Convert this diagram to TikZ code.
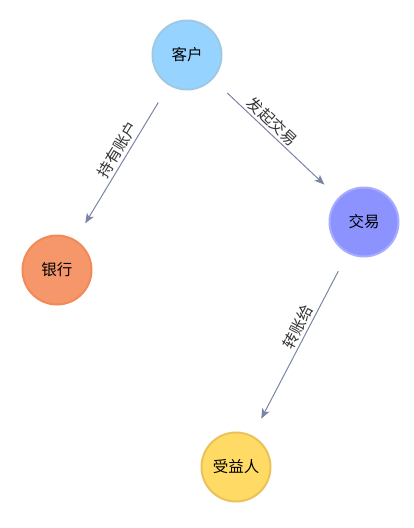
\documentclass[tikz,border=0pt]{standalone}
\usepackage{fontspec}
\setmainfont{Noto Sans CJK SC}
\usetikzlibrary{arrows.meta}
\definecolor{custblue}{HTML}{96D4FF}
\definecolor{custring}{HTML}{A0C8E4}
\definecolor{bankorg}{HTML}{F5966B}
\definecolor{bankring}{HTML}{F28A55}
\definecolor{tradeblue}{HTML}{8C93FF}
\definecolor{tradering}{HTML}{A8ACFF}
\definecolor{benegold}{HTML}{FFDB66}
\definecolor{benering}{HTML}{E9C25A}
\definecolor{edgegray}{HTML}{7A84A6}
\definecolor{lbltext}{HTML}{333333}

\begin{document}
\begin{tikzpicture}[
  x=1pt, y=-1pt,
  >={Stealth[length=10pt, width=8pt, inset=2.5pt]},
  entity/.style 2 args={
    circle, draw=#2, line width=2pt, fill=#1,
    minimum size=69pt, inner sep=0pt,
    font=\fontsize{15.5}{18}\selectfont, text=black},
  rel/.style={->, draw=edgegray, line width=1pt,
    shorten <=20pt, shorten >=19pt},
  lbl/.style={sloped, above, inner sep=2.5pt,
    font=\fontsize{15.5}{17}\selectfont, text=lbltext},
]

% Canvas
\useasboundingbox (0,0) rectangle (414,528);

% === Entities ===
\node[entity={custblue}{custring}]   (cust)  at (187,55)  {客户};
\node[entity={bankorg}{bankring}]    (bank)  at (57,270)  {银行};
\node[entity={tradeblue}{tradering}] (trade) at (364,222) {交易};
\node[entity={benegold}{benering}]   (bene)  at (236,467) {受益人};

% === Relations ===
\draw[rel] (cust)  -- node[lbl, pos=0.45] {持有账户} (bank);
\draw[rel] (cust)  -- node[lbl, pos=0.42] {发起交易} (trade);
\draw[rel] (trade) -- node[lbl, pos=0.43] {转账给}   (bene);

\end{tikzpicture}
\end{document}
